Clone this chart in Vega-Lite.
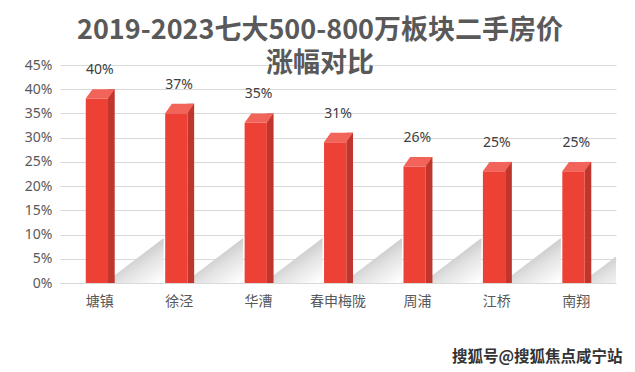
{
  "$schema": "https://vega.github.io/schema/vega-lite/v6.json",
  "width": 556,
  "height": 218,
  "autosize": {"type": "none"},
  "padding": {"left": 60, "top": 65, "right": 19, "bottom": 89},
  "background": "white",
  "config": {"view": {"stroke": null}, "font": "Noto Sans"},
  "title": {
    "text": ["2019-2023七大500-800万板块二手房价", "涨幅对比"],
    "font": "Noto Sans CJK SC",
    "fontSize": 27,
    "fontWeight": "bold",
    "color": "#595959",
    "lineHeight": 33,
    "anchor": "middle",
    "frame": "group",
    "baseline": "bottom",
    "dx": -18,
    "dy": 36,
    "offset": -11
  },
  "data": {
    "values": [
      {"name": "塘镇", "value": 0.40},
      {"name": "徐泾", "value": 0.37},
      {"name": "华漕", "value": 0.35},
      {"name": "春申梅陇", "value": 0.31},
      {"name": "周浦", "value": 0.26},
      {"name": "江桥", "value": 0.25},
      {"name": "南翔", "value": 0.25}
    ]
  },
  "encoding": {
    "x": {
      "field": "name",
      "type": "nominal",
      "sort": null,
      "scale": {"paddingInner": 0, "paddingOuter": 0},
      "axis": {
        "labelAngle": 0,
        "grid": false,
        "domain": false,
        "ticks": false,
        "labelPadding": 11,
        "labelFont": "Noto Sans CJK SC",
        "labelFontSize": 14,
        "labelColor": "#595959",
        "title": "搜狐号@搜狐焦点咸宁站",
        "titleFont": "Noto Sans CJK SC",
        "titleFontSize": 15.5,
        "titleFontWeight": "bold",
        "titleColor": "#333333",
        "titleAnchor": "end",
        "titleAlign": "right",
        "titleX": 562,
        "titleY": 78,
        "titleBaseline": "alphabetic"
      }
    },
    "y": {
      "field": "value",
      "type": "quantitative",
      "scale": {"domain": [0, 0.45], "nice": false},
      "axis": {
        "title": null,
        "values": [0, 0.05, 0.1, 0.15, 0.2, 0.25, 0.3, 0.35, 0.4, 0.45],
        "format": ".0%",
        "grid": true,
        "gridColor": "#d9d9d9",
        "domain": false,
        "ticks": false,
        "labelFont": "Noto Sans",
        "labelFontSize": 14,
        "labelColor": "#595959",
        "labelPadding": 8
      }
    }
  },
  "layer": [
    {
      "mark": {
        "type": "point",
        "shape": "M 14 0 L 14 -7 L 64 -45 L 64 0 Z",
        "size": 4,
        "filled": true,
        "opacity": 1,
        "strokeWidth": 0,
        "clip": true,
        "color": {
          "gradient": "linear",
          "x1": 0.45, "y1": 0.38, "x2": 0.9, "y2": 1,
          "stops": [
            {"offset": 0, "color": "#cccccc"},
            {"offset": 0.35, "color": "#e2e2e2"},
            {"offset": 1, "color": "#ffffff"}
          ]
        }
      },
      "encoding": {"y": {"datum": 0, "type": "quantitative"}}
    },
    {
      "mark": {"type": "bar", "width": 6.7, "xOffset": 11.65, "color": "#C0352C", "clip": true},
      "encoding": {"y2": {"datum": 0}}
    },
    {
      "mark": {"type": "bar", "width": 22.3, "xOffset": -2.8, "yOffset": 9.4, "color": "#EE4136", "clip": true},
      "encoding": {"y2": {"datum": 0}}
    },
    {
      "mark": {
        "type": "point",
        "shape": "M -7.3 0 L 15 0 L 8.3 9.4 L -14 9.4 Z",
        "size": 4,
        "filled": true,
        "opacity": 1,
        "strokeWidth": 0,
        "color": "#F2645A"
      },
      "encoding": {}
    },
    {
      "mark": {"type": "text", "dy": -19, "baseline": "middle", "fontSize": 14, "font": "Noto Sans", "color": "#404040"},
      "encoding": {"text": {"field": "value", "type": "quantitative", "format": ".0%"}}
    }
  ]
}
